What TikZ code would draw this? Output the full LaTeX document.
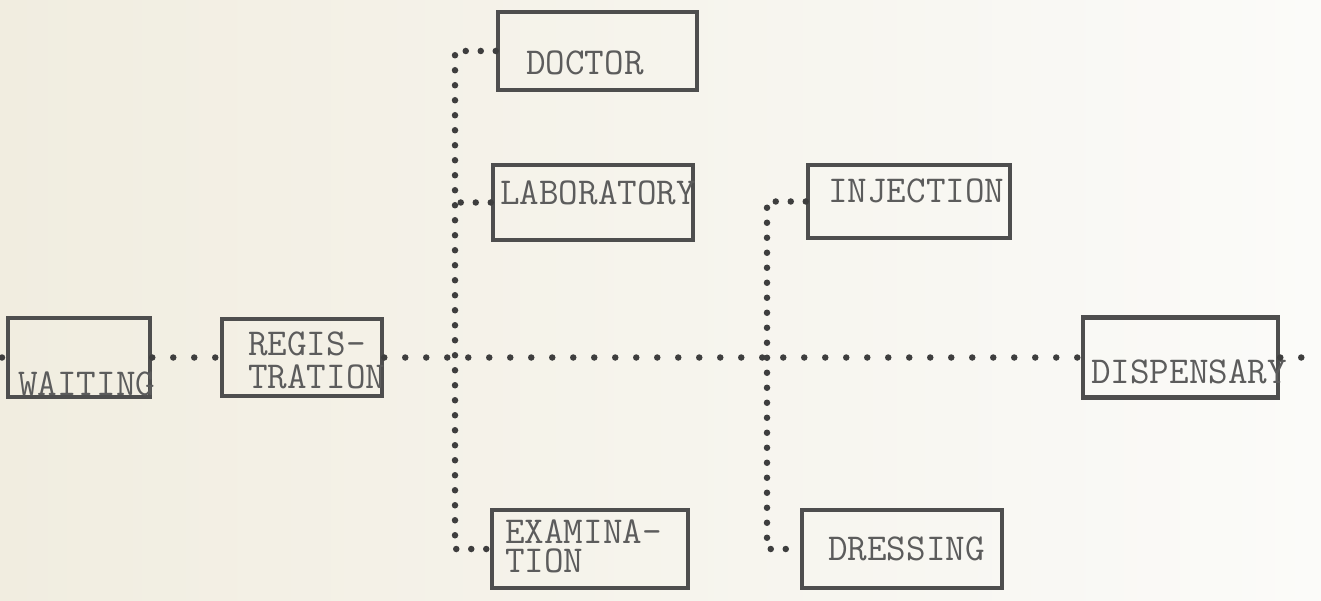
\documentclass[tikz,border=0pt]{standalone}
\usepackage{fontspec}
\definecolor{paperL}{RGB}{241,237,224}
\definecolor{paperR}{RGB}{251,251,249}
\definecolor{boxline}{RGB}{78,78,78}
\definecolor{ink}{RGB}{92,92,92}
\definecolor{dotink}{RGB}{62,62,62}
\begin{document}
\begin{tikzpicture}[x=1pt,y=-1pt,
  box/.style={draw=boxline, line width=4.5pt, inner sep=0pt},
  lbl/.style={text=ink, inner sep=0pt, font=\fontsize{38}{33}\selectfont\ttfamily},
  lbltwo/.style={lbl, align=left},
  hdots/.style={draw=dotink, line width=6.5pt, line cap=round, dash pattern=on 0pt off 21pt},
  vdots/.style={draw=dotink, line width=6.5pt, line cap=round, dash pattern=on 0pt off 15pt}]
\useasboundingbox (0,0) rectangle (1321,601);
\shade[left color=paperL, right color=paperR] (0,0) rectangle (1321,601);
% boxes
\node[box, minimum width=142pt, minimum height=79pt] (wait) at (79,357.5) {};
\node[box, minimum width=160pt, minimum height=77pt] (reg) at (302,357.5) {};
\node[box, minimum width=199pt, minimum height=78pt] (doc) at (597.5,51) {};
\node[box, minimum width=200pt, minimum height=75pt] (lab) at (593,202.5) {};
\node[box, minimum width=202pt, minimum height=73pt] (inj) at (909,201.5) {};
\node[box, minimum width=195pt, minimum height=80pt] (disp) at (1180.5,357.5) {};
\node[box, minimum width=196pt, minimum height=78pt] (exam) at (590,549) {};
\node[box, minimum width=200pt, minimum height=78pt] (dress) at (902,549) {};
% labels
\node[lbl, anchor=base west] (waitT) at (18,395) {WAITING};
\node[lbltwo, anchor=base west] (regT) at (248,388) {REGIS-\\TRATION};
\node[lbl, anchor=base west] (docT) at (526,75) {DOCTOR};
\node[lbl, anchor=base west] (labT) at (500,205) {LABORATORY};
\node[lbl, anchor=base west] (injT) at (828,203) {INJECTION};
\node[lbl, anchor=base west] (dispT) at (1091,383) {DISPENSARY};
\node[lbltwo, anchor=base west, font=\fontsize{38}{29}\selectfont\ttfamily] (examT) at (505,572) {EXAMINA-\\TION};
\node[lbl, anchor=base west] (dressT) at (828,560) {DRESSING};
% junction coordinates
\coordinate (inL) at (2,357.5);
\coordinate (outR) at (1321,357.5);
\coordinate (ta) at (455,51);
\coordinate (tb) at (455,549);
\coordinate (tc) at (767,201.5);
\coordinate (td) at (767,549);
% connectors
\draw[hdots] (inL) -- (wait.west);
\draw[hdots] (wait.east) -- (reg.west);
\draw[hdots] (reg.east) -- (disp.west);
\draw[hdots] (disp.east) -- (outR);
\draw[vdots] (doc.west) -- (ta) -- (tb) -- (exam.west);
\draw[vdots] (lab.west) -- (lab.west -| ta);
\draw[vdots] (inj.west) -- (tc) -- (td) -- (dress.west);
\end{tikzpicture}
\end{document}
